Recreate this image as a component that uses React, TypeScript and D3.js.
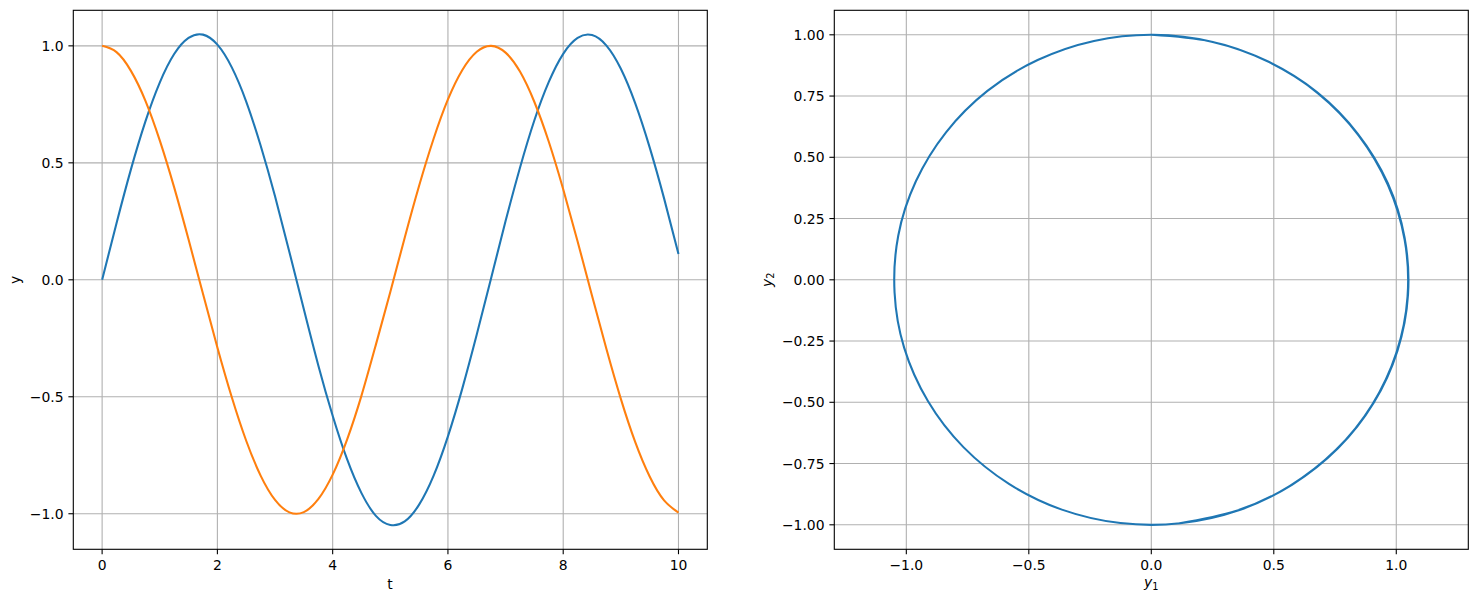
import React from "react";
import * as d3 from "d3";

// time samples (read every 0.25 from the picture)
const tValues: number[] = d3.range(0, 10.0001, 0.25).map((v) => +v.toFixed(2));
// y1 (blue)
const y1Values: number[] = [
  0, 0.242, 0.472, 0.676, 0.843, 0.965, 1.034, 1.048, 1.005, 0.908, 0.762,
  0.574, 0.357, 0.118, -0.126, -0.365, -0.581, -0.767, -0.912, -1.009, -1.048,
  -1.033, -0.961, -0.838, -0.669, -0.464, -0.234, 0.008, 0.251, 0.479, 0.682,
  0.846, 0.966, 1.034, 1.046, 1.001, 0.902, 0.754, 0.566, 0.348, 0.11,
];
// y2 (orange)
const y2Values: number[] = [
  1, 0.973, 0.893, 0.766, 0.596, 0.395, 0.172, -0.06, -0.289, -0.502, -0.688,
  -0.837, -0.941, -0.994, -0.993, -0.938, -0.833, -0.683, -0.495, -0.277,
  -0.052, 0.18, 0.402, 0.602, 0.771, 0.897, 0.975, 1.0, 0.971, 0.89, 0.76,
  0.59, 0.387, 0.164, -0.068, -0.296, -0.509, -0.694, -0.841, -0.943, -0.995,
];

const leftXTicks = [0, 2, 4, 6, 8, 10];
const leftYTicks = [-1.0, -0.5, 0.0, 0.5, 1.0];
const rightXTicks = [-1.0, -0.5, 0.0, 0.5, 1.0];
const rightYTicks = [-1.0, -0.75, -0.5, -0.25, 0.0, 0.25, 0.5, 0.75, 1.0];

const BLUE = "#1f77b4";
const ORANGE = "#ff7f0e";
const GRID = "#b0b0b0";
const FONT = "DejaVu Sans, sans-serif";
const FS = 13.9;
const TICK = 4.9;
const PAD = 4.9;

const fmt = (v: number, d: number) => {
  const s = Math.abs(v).toFixed(d);
  return (v < 0 ? "\u2212" : "") + s;
};

type AxesProps = {
  left: number;
  right: number;
  top: number;
  bottom: number;
  x: d3.ScaleLinear<number, number>;
  y: d3.ScaleLinear<number, number>;
  xTicks: number[];
  yTicks: number[];
  xFmt: (v: number) => string;
  yFmt: (v: number) => string;
  children?: React.ReactNode;
};

function Axes({ left, right, top, bottom, x, y, xTicks, yTicks, xFmt, yFmt, children }: AxesProps) {
  return (
    <g>
      {/* grid */}
      {xTicks.map((t) => (
        <line key={"gx" + t} x1={x(t)} x2={x(t)} y1={top} y2={bottom} stroke={GRID} strokeWidth={1.1} />
      ))}
      {yTicks.map((t) => (
        <line key={"gy" + t} x1={left} x2={right} y1={y(t)} y2={y(t)} stroke={GRID} strokeWidth={1.1} />
      ))}
      {children}
      {/* spines */}
      <rect x={left} y={top} width={right - left} height={bottom - top} fill="none" stroke="#000" strokeWidth={1.1} />
      {/* ticks */}
      {xTicks.map((t) => (
        <g key={"tx" + t}>
          <line x1={x(t)} x2={x(t)} y1={bottom} y2={bottom + TICK} stroke="#000" strokeWidth={1.1} />
          <text x={x(t)} y={bottom + TICK + PAD + 10.6} textAnchor="middle" fontFamily={FONT} fontSize={FS} fill="#000">
            {xFmt(t)}
          </text>
        </g>
      ))}
      {yTicks.map((t) => (
        <g key={"ty" + t}>
          <line x1={left - TICK} x2={left} y1={y(t)} y2={y(t)} stroke="#000" strokeWidth={1.1} />
          <text x={left - TICK - PAD} y={y(t) + 5.1} textAnchor="end" fontFamily={FONT} fontSize={FS} fill="#000">
            {yFmt(t)}
          </text>
        </g>
      ))}
    </g>
  );
}

export default function App() {
  const L = { left: 73.3, right: 707.3, top: 10.3, bottom: 549.3 };
  const R = { left: 834.3, right: 1468.3, top: 10.3, bottom: 549.3 };

  const lx = d3.scaleLinear().domain([-0.5, 10.5]).range([L.left, L.right]);
  const ly = d3.scaleLinear().domain([-1.152, 1.152]).range([L.bottom, L.top]);
  const rx = d3.scaleLinear().domain([-1.294, 1.294]).range([R.left, R.right]);
  const ry = d3.scaleLinear().domain([-1.1, 1.1]).range([R.bottom, R.top]);

  const idx = tValues.map((_, i) => i);
  const line1 = d3.line<number>().x((i) => lx(tValues[i])).y((i) => ly(y1Values[i])).curve(d3.curveNatural);
  const line2 = d3.line<number>().x((i) => lx(tValues[i])).y((i) => ly(y2Values[i])).curve(d3.curveNatural);
  const phase = d3.line<number>().x((i) => rx(y1Values[i])).y((i) => ry(y2Values[i])).curve(d3.curveNatural);

  return (
    <svg width={1478} height={603} style={{ position: "absolute", left: 0, top: 0, background: "#fff" }}>
      <rect x={0} y={0} width={1478} height={603} fill="#fff" />
      <Axes {...L} x={lx} y={ly} xTicks={leftXTicks} yTicks={leftYTicks} xFmt={(v) => fmt(v, 0)} yFmt={(v) => fmt(v, 1)}>
        <path d={line1(idx) || ""} fill="none" stroke={BLUE} strokeWidth={2.08} />
        <path d={line2(idx) || ""} fill="none" stroke={ORANGE} strokeWidth={2.08} />
      </Axes>
      <text x={390} y={589} textAnchor="middle" fontFamily={FONT} fontSize={FS}>t</text>
      <text transform="translate(19.8,279.8) rotate(-90)" textAnchor="middle" fontFamily={FONT} fontSize={FS}>y</text>

      <Axes {...R} x={rx} y={ry} xTicks={rightXTicks} yTicks={rightYTicks} xFmt={(v) => fmt(v, 1)} yFmt={(v) => fmt(v, 2)}>
        <path d={phase(idx) || ""} fill="none" stroke={BLUE} strokeWidth={2.08} />
      </Axes>
      <text x={1151.3} y={587} textAnchor="middle" fontFamily={FONT} fontSize={FS}>
        <tspan fontStyle="italic">y</tspan>
        <tspan fontSize={FS * 0.7} dy={2.6}>1</tspan>
      </text>
      <text transform="translate(771.5,279.8) rotate(-90)" textAnchor="middle" fontFamily={FONT} fontSize={FS}>
        <tspan fontStyle="italic">y</tspan>
        <tspan fontSize={FS * 0.7} dy={2.6}>2</tspan>
      </text>
    </svg>
  );
}
